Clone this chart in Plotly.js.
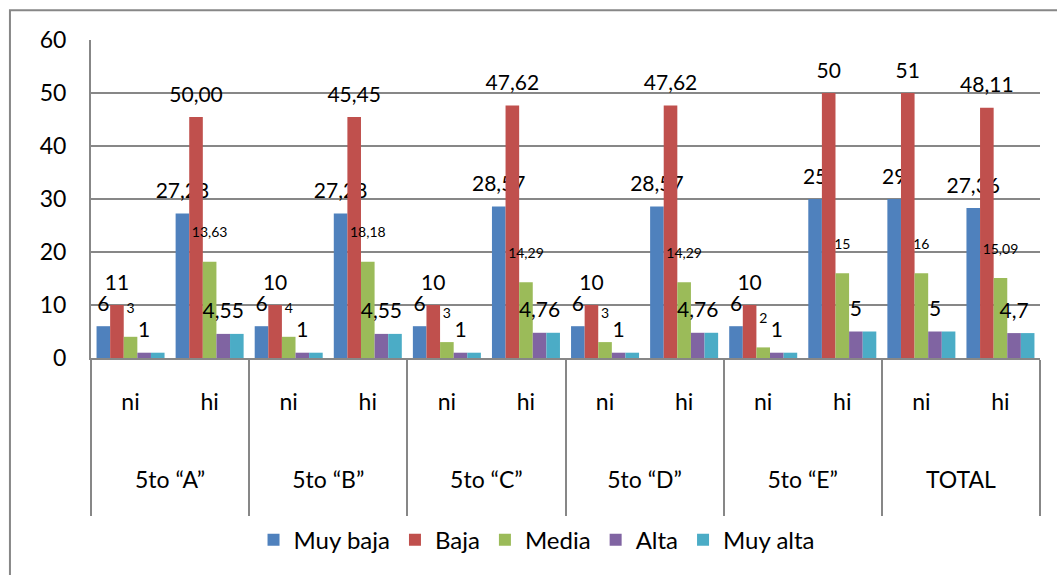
<!DOCTYPE html>
<html>
<head>
<meta charset="utf-8">
<script src="https://cdn.plot.ly/plotly-3.0.1.min.js"></script>
<style>
  body { margin: 0; background: #fff; }
  #plot { width: 1057px; height: 575px; }
</style>
</head>
<body>
<div id="plot"></div>
<script>
// categories: two levels (group, ni/hi)
let grupos = ["5to “A”", "5to “A”", "5to “B”", "5to “B”", "5to “C”", "5to “C”",
              "5to “D”", "5to “D”", "5to “E”", "5to “E”", "TOTAL", "TOTAL"];
let sub = ["ni", "hi", "ni", "hi", "ni", "hi", "ni", "hi", "ni", "hi", "ni", "hi"];

// bar heights as drawn
let muyBaja = [6, 27.28, 6, 27.28, 6, 28.57, 6, 28.57, 6, 30, 30, 28.3];
let baja    = [10, 45.45, 10, 45.45, 10, 47.62, 10, 47.62, 10, 50, 50, 47.2];
let media   = [4, 18.18, 4, 18.18, 3, 14.29, 3, 14.29, 2, 16, 16, 15.09];
let alta    = [1, 4.55, 1, 4.55, 1, 4.76, 1, 4.76, 1, 5, 5, 4.7];
let muyAlta = [1, 4.55, 1, 4.55, 1, 4.76, 1, 4.76, 1, 5, 5, 4.7];

// data labels as printed on the chart
let lblMuyBaja = ["6", "27,28", "6", "27,28", "6", "28,57", "6", "28,57", "6", "25", "29", "27,36"];
let lblBaja    = ["11", "50,00", "10", "45,45", "10", "47,62", "10", "47,62", "10", "50", "51", "48,11"];
let lblMedia   = ["3", "13,63", "4", "18,18", "3", "14,29", "3", "14,29", "2", "15", "16", "15,09"];
let lblAlta    = ["1", "4,55", "1", "4,55", "1", "4,76", "1", "4,76", "1", "5", "5", "4,7"];

let fuente = "Lato, 'Open Sans', sans-serif";

// empty lines push the axis labels down, like the table-like axis of the original
let grande = t => "<span style='font-size:23px'>" + t + "</span>";
let hueco = "<br><span style='font-size:4px'> </span>";
let xGrupos = grupos.map(g => "<br><br>" + grande(g) + hueco);
let xSub = sub.map(s => "<br>" + grande(s) + hueco);

// label in a bigger span, plus an empty small line underneath to lift it off the bar
function conHueco(etiquetas, tam) {
  return etiquetas.map(t => "<span style='font-size:" + tam + "px'>" + t + "</span><br> ");
}

function serie(nombre, valores, etiquetas, color, tam, hueco) {
  let tr = {
    x: [xGrupos, xSub],
    y: valores,
    name: nombre,
    type: "bar",
    marker: {color: color},
    textposition: "none",
    constraintext: "none",
    cliponaxis: false,
    hoverinfo: "y"
  };
  if (etiquetas) {
    tr.text = conHueco(etiquetas, tam);
    tr.textposition = "outside";
    tr.textfont = {family: fuente, size: hueco, color: "#000"};
  }
  return tr;
}

let data = [
  serie("Muy baja", muyBaja, lblMuyBaja, "#4F81BD", 21, 8),
  serie("Baja", baja, lblBaja, "#C0504D", 21, 8),
  serie("Media", media, lblMedia, "#9BBB59", 14, 14),
  serie("Alta", alta, lblAlta, "#8064A2", 21, 8),
  serie("Muy alta", muyAlta, null, "#4BACC6")
];

let layout = {
  width: 1057,
  height: 575,
  margin: {l: 91, r: 17, t: 40, b: 214},
  paper_bgcolor: "#fff",
  plot_bgcolor: "#fff",
  font: {family: fuente, size: 23, color: "#000"},
  barmode: "group",
  bargap: 0.14,
  bargroupgap: 0,
  showlegend: true,
  legend: {
    orientation: "h",
    x: 0.47, xanchor: "center",
    y: -0.573, yanchor: "middle",
    font: {family: fuente, size: 24, color: "#000"}
  },
  xaxis: {
    type: "multicategory",
    automargin: false,
    showline: true,
    linecolor: "#878787",
    linewidth: 2,
    showdividers: true,
    dividercolor: "#878787",
    dividerwidth: 2,
    tickfont: {family: fuente, size: 20, color: "#000"},
    showgrid: false
  },
  yaxis: {
    range: [0, 60],
    dtick: 10,
    automargin: false,
    showline: true,
    linecolor: "#878787",
    linewidth: 2,
    showgrid: true,
    gridcolor: "#878787",
    gridwidth: 2,
    zeroline: false,
    ticks: "",
    ticklabelstandoff: 18,
    tickfont: {family: fuente, size: 23, color: "#000"}
  },
  shapes: [{
    type: "rect", xref: "paper", yref: "paper",
    x0: -0.0854, x1: 1.03, y0: -0.7, y1: 1.0935,
    line: {color: "#878787", width: 2},
    layer: "below"
  }]
};

Plotly.newPlot("plot", data, layout, {displayModeBar: false});
</script>
</body>
</html>
